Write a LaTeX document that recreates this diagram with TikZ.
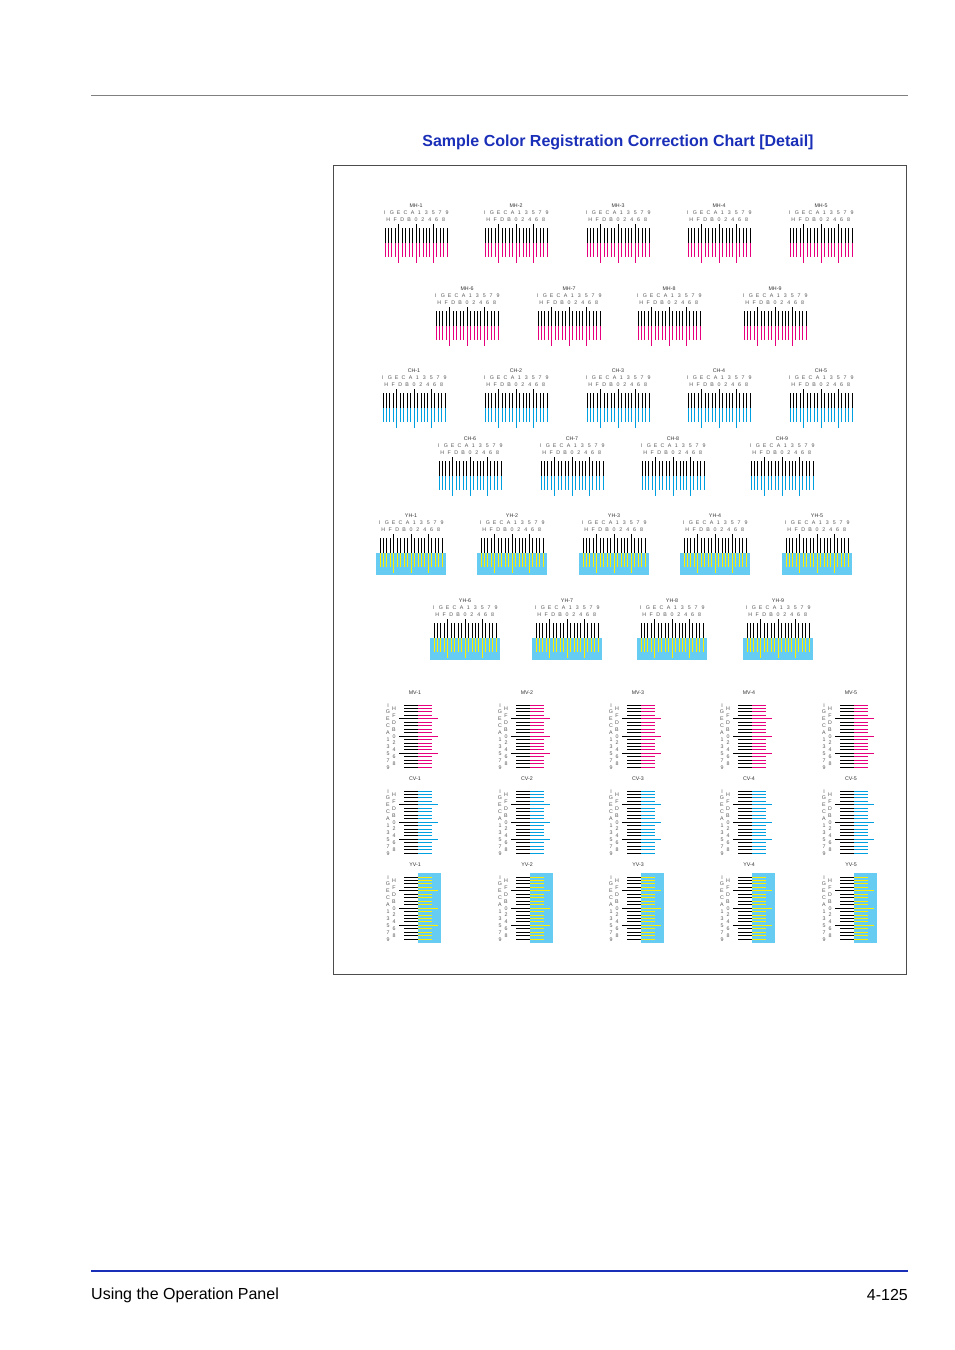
\documentclass[tikz,border=0pt]{standalone}
\usepackage{fontspec}
\setmainfont{Liberation Sans}
\definecolor{mag}{HTML}{E6007E}
\definecolor{cy}{HTML}{00A0E0}
\definecolor{lb}{HTML}{66CCF2}
\definecolor{yl}{HTML}{FFEE00}
\definecolor{ttl}{HTML}{1A2FB8}
\newcommand{\chfont}{\fontsize{5.3}{6.9}\selectfont}
\newcommand{\bx}[1]{\hbox to 6.9pt{\hss#1\hss}}
\newcommand{\rowA}{\bx{I}\bx{G}\bx{E}\bx{C}\bx{A}\bx{1}\bx{3}\bx{5}\bx{7}\bx{9}}
\newcommand{\rowB}{\bx{H}\bx{F}\bx{D}\bx{B}\bx{0}\bx{2}\bx{4}\bx{6}\bx{8}}
\tikzset{chtxt/.style={font=\chfont,text=gray!70!black,inner sep=0pt}}
\newcommand{\hchart}[5]{% cx, L, label, color, bg(0/1)
 \begin{scope}[shift={(#1,#2)}]
  \ifnum#5=1 \fill[lb] (-35,37) rectangle (35,59);\fi
  \node[chtxt,text=black!80] at (0,0) {#3};
  \node[chtxt] at (0,7) {\rowA};
  \node[chtxt] at (0,14) {\rowB};
  \draw[black,line width=0.9] foreach \i in {0,...,18}{({-31+\i*3.45},22) -- ({-31+\i*3.45},37)}
     (-17.2,18)--(-17.2,22) (0.05,18)--(0.05,22) (17.3,18)--(17.3,22);
  \draw[#4,line width=0.9] foreach \i in {0,...,18}{({-31+\i*3.45},37) -- ({-31+\i*3.45},51)}
     (-17.2,51)--(-17.2,57) (0.05,51)--(0.05,57) (17.3,51)--(17.3,57);
 \end{scope}}
\newcommand{\vchart}[5]{%
 \begin{scope}[shift={(#1,#2)}]
  \ifnum#5=1 \fill[lb] (3,8) rectangle (26,78);\fi
  \node[chtxt,text=black!80] at (0,0) {#3};
  \node[chtxt,anchor=north,align=center] at (-27,10.2) {I\\G\\E\\C\\A\\1\\3\\5\\7\\9};
  \node[chtxt,anchor=north,align=center] at (-21,13.6) {H\\F\\D\\B\\0\\2\\4\\6\\8};
  \draw[black,line width=0.9] foreach \i in {0,...,18}{(-11,{12+\i*3.45}) -- (3,{12+\i*3.45})}
     (-16,25.8)--(-11,25.8) (-16,43.05)--(-11,43.05) (-16,60.3)--(-11,60.3);
  \draw[#4,line width=0.9] foreach \i in {0,...,18}{(3,{12+\i*3.45}) -- (17,{12+\i*3.45})}
     (17,25.8)--(23,25.8) (17,43.05)--(23,43.05) (17,60.3)--(23,60.3);
 \end{scope}}
\begin{document}
\begin{tikzpicture}[x=1pt,y=-1pt]
\useasboundingbox (0,0) rectangle (954,1350);
\fill[white] (0,0) rectangle (954,1350);
\coordinate (tl) at (91,95); \coordinate (tr) at (908,95);
\draw[gray,line width=0.8] (tl) -- (tr);
\node[font=\bfseries\fontsize{16}{16}\selectfont,text=ttl] (title) at (618,142) {Sample Color Registration Correction Chart [Detail]};
\draw[gray!60!black,line width=0.7] (333,165) rectangle (906,974);
\hchart{416}{206}{MH-1}{mag}{0}\hchart{516}{206}{MH-2}{mag}{0}\hchart{618}{206}{MH-3}{mag}{0}\hchart{719}{206}{MH-4}{mag}{0}\hchart{821}{206}{MH-5}{mag}{0}
\hchart{467}{289}{MH-6}{mag}{0}\hchart{569}{289}{MH-7}{mag}{0}\hchart{669}{289}{MH-8}{mag}{0}\hchart{775}{289}{MH-9}{mag}{0}
\hchart{414}{371}{CH-1}{cy}{0}\hchart{516}{371}{CH-2}{cy}{0}\hchart{618}{371}{CH-3}{cy}{0}\hchart{719}{371}{CH-4}{cy}{0}\hchart{821}{371}{CH-5}{cy}{0}
\hchart{470}{439}{CH-6}{cy}{0}\hchart{572}{439}{CH-7}{cy}{0}\hchart{673}{439}{CH-8}{cy}{0}\hchart{782}{439}{CH-9}{cy}{0}
\hchart{411}{516}{YH-1}{yl}{1}\hchart{512}{516}{YH-2}{yl}{1}\hchart{614}{516}{YH-3}{yl}{1}\hchart{715}{516}{YH-4}{yl}{1}\hchart{817}{516}{YH-5}{yl}{1}
\hchart{465}{601}{YH-6}{yl}{1}\hchart{567}{601}{YH-7}{yl}{1}\hchart{672}{601}{YH-8}{yl}{1}\hchart{778}{601}{YH-9}{yl}{1}
\vchart{415}{693}{MV-1}{mag}{0}\vchart{527}{693}{MV-2}{mag}{0}\vchart{638}{693}{MV-3}{mag}{0}\vchart{749}{693}{MV-4}{mag}{0}\vchart{851}{693}{MV-5}{mag}{0}
\vchart{415}{779}{CV-1}{cy}{0}\vchart{527}{779}{CV-2}{cy}{0}\vchart{638}{779}{CV-3}{cy}{0}\vchart{749}{779}{CV-4}{cy}{0}\vchart{851}{779}{CV-5}{cy}{0}
\vchart{415}{865}{YV-1}{yl}{1}\vchart{527}{865}{YV-2}{yl}{1}\vchart{638}{865}{YV-3}{yl}{1}\vchart{749}{865}{YV-4}{yl}{1}\vchart{851}{865}{YV-5}{yl}{1}
\coordinate (bl) at (91,1271); \coordinate (br) at (908,1271);
\draw[ttl,line width=1.2] (bl) -- (br);
\node[anchor=west,inner xsep=0pt,font=\fontsize{16}{16}\selectfont] (fl) at (91,1295) {Using the Operation Panel};
\node[anchor=east,inner xsep=0pt,font=\fontsize{16}{16}\selectfont] (fr) at (908,1295) {4-125};
\end{tikzpicture}
\end{document}
